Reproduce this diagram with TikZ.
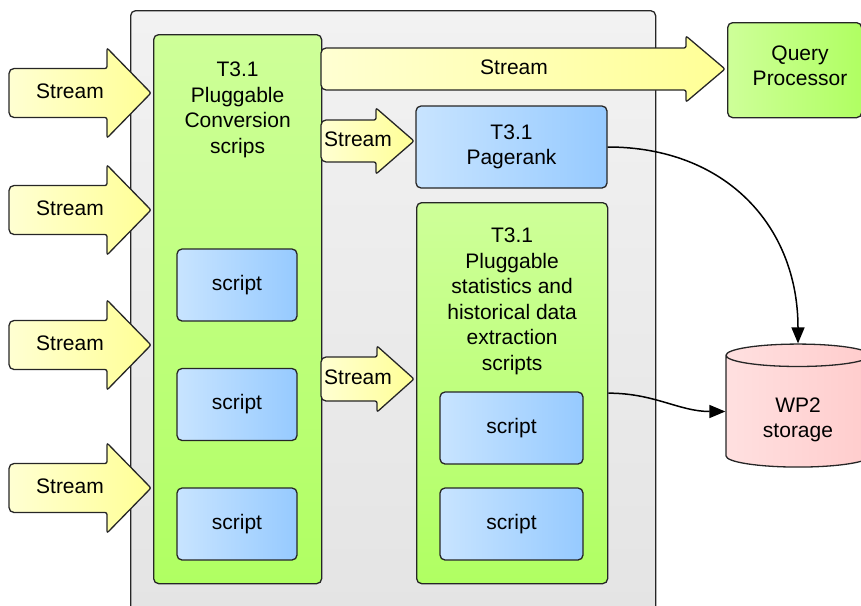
\documentclass[tikz,border=0pt]{standalone}
\usepackage{fontspec}
\setmainfont{Liberation Sans}
\usetikzlibrary{positioning, arrows.meta, shapes.geometric}
\definecolor{grayA}{RGB}{242,242,242}
\definecolor{grayB}{RGB}{228,228,228}
\definecolor{greenA}{RGB}{206,255,153}
\definecolor{greenB}{RGB}{176,255,98}
\definecolor{blueA}{RGB}{200,228,255}
\definecolor{blueB}{RGB}{150,202,255}
\definecolor{yellowA}{RGB}{255,255,210}
\definecolor{yellowB}{RGB}{255,255,150}
\definecolor{pinkA}{RGB}{255,224,224}
\definecolor{pinkB}{RGB}{255,204,204}

% fat "Stream" arrow: name, tail x, tip x, y, body half, head half, head length, text x
\newcommand{\fatarrow}[8]{%
  \draw[stream] (#2,#4) [rounded corners=5pt] -- (#2,{#4-#5})
    [rounded corners=2pt] -- ({#3-#7},{#4-#5}) -- ({#3-#7},{#4-#6}) -- (#3,#4)
    -- ({#3-#7},{#4+#6}) -- ({#3-#7},{#4+#5})
    [rounded corners=5pt] -- (#2,{#4+#5}) -- cycle;
  \node[streamtxt] (#1) at (#8,{#4-2}) {Stream};}

\begin{document}
\begin{tikzpicture}[x=1pt, y=-1pt,
    font=\fontsize{21}{25.5}\selectfont,
    box/.style={draw=black!85, line width=1.3pt, rounded corners=5pt,
                inner sep=0pt, align=center},
    platform/.style={box, top color=grayA, bottom color=grayB},
    greenbox/.style={box, top color=greenA, bottom color=greenB},
    bluebox/.style={box, left color=blueA, right color=blueB},
    boxtxt/.style={inner sep=0pt, align=center},
    stream/.style={draw=black!85, line width=1.3pt, left color=yellowA, right color=yellowB},
    streamtxt/.style={inner sep=0pt},
    store/.style={cylinder, shape border rotate=90, aspect=0.32, draw=black!85,
                  line width=1.3pt, left color=pinkA, right color=pinkB, align=center,
                  minimum width=144pt, minimum height=123pt, inner sep=0pt},
    link/.style={-{Triangle[length=16pt, width=13pt]}, line width=1.5pt, black}]
  \useasboundingbox (0,0) rectangle (861,605);

  % containers
  \node[platform, minimum width=525pt, minimum height=602pt, anchor=north west] (plat) at (130,10) {};
  \node[greenbox, minimum width=168pt, minimum height=549pt, anchor=north west] (conv) at (153,34) {};
  \node[boxtxt, below=28pt of conv.north] (convtxt) {T3.1\\Pluggable\\Conversion\\scrips};
  \node[bluebox, minimum width=120pt, minimum height=72pt] (cs1) at (237,285) {script};
  \node[bluebox, minimum width=120pt, minimum height=72pt] (cs2) at (237,404.5) {script};
  \node[bluebox, minimum width=120pt, minimum height=72pt] (cs3) at (237,524) {script};

  \node[bluebox, minimum width=191pt, minimum height=82pt] (pr) at (511.5,147) {T3.1\\Pagerank};
  \node[greenbox, minimum width=191pt, minimum height=381pt, anchor=north west] (stat) at (416,202) {};
  \node[boxtxt, below=26pt of stat.north] (stattxt) {T3.1\\Pluggable\\statistics and\\historical data\\extraction\\scripts};
  \node[bluebox, minimum width=143pt, minimum height=72pt] (ss1) at (511.5,428) {script};
  \node[bluebox, minimum width=143pt, minimum height=72pt] (ss2) at (511.5,524) {script};

  \node[greenbox, left color=greenA, right color=greenB, minimum width=134pt, minimum height=95pt,
        anchor=north west] (qp) at (727,22) {};
  \node[boxtxt] (qptxt) at (800,66) {Query\\Processor};
  \node[store] (db) at (798,411.5) {\phantom{WP2}\\\phantom{storage}};
  \node[boxtxt] (dbtxt) at (798,420) {WP2\\storage};

  % streams
  \fatarrow{in1}{9}{151}{93}{24.5}{45}{44}{70}
  \fatarrow{in2}{9}{151}{210}{24.5}{45}{44}{70}
  \fatarrow{in3}{9}{151}{345}{24.5}{45}{44}{70}
  \fatarrow{in4}{9}{151}{488}{24.5}{45}{44}{70}
  \fatarrow{toqp}{321}{725}{69}{21}{33}{39}{514}
  \fatarrow{topr}{321}{414}{141}{21}{33}{38}{358}
  \fatarrow{tostat}{321}{414}{379}{22}{33}{37}{358}

  % results
  \draw[link] (pr.east) to[out=0, in=90, looseness=1.1] (db.top);
  \draw[link] (stat.east) to[out=0, in=180] (db.west);
\end{tikzpicture}
\end{document}
